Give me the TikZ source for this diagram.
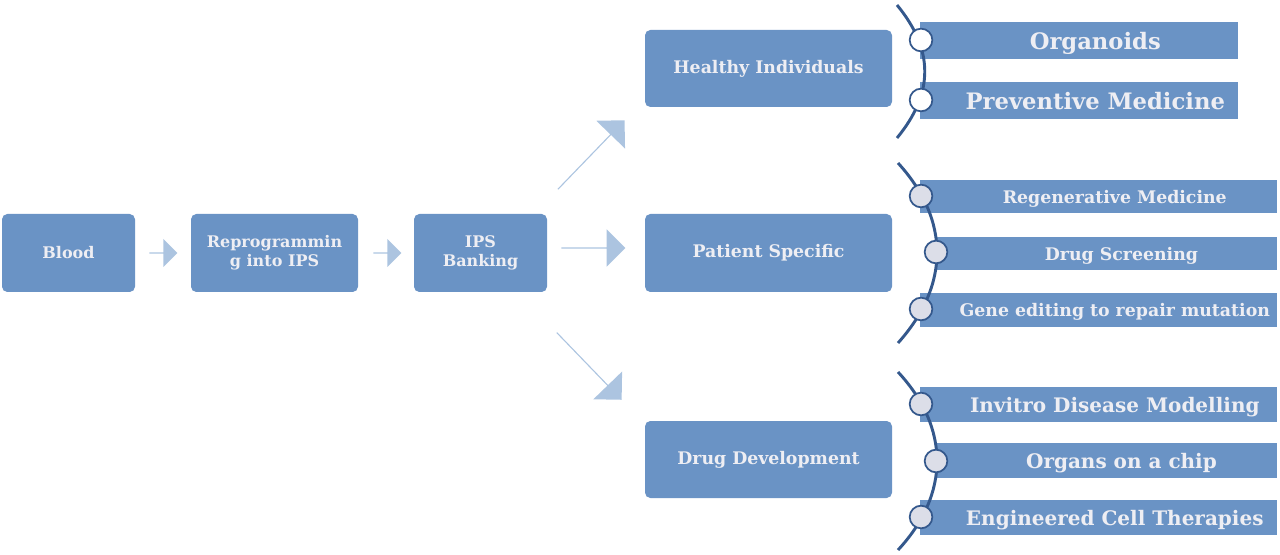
\documentclass[tikz,border=0pt]{standalone}
\usepackage{fontspec}
\setmainfont{DejaVu Serif}
\usetikzlibrary{shapes.arrows}
\definecolor{boxc}{RGB}{106,147,197}
\definecolor{arrc}{RGB}{172,196,224}
\definecolor{txtc}{RGB}{238,238,243}
\definecolor{linec}{RGB}{52,88,140}
\definecolor{dotc}{RGB}{220,222,232}
\begin{document}
\begin{tikzpicture}[x=0.75pt,y=-0.75pt,
  box/.style={fill=boxc,rounded corners=4pt,text=txtc,font=\bfseries\fontsize{12}{14}\selectfont,align=center,inner sep=0pt},
  bar/.style={fill=boxc,text=txtc,anchor=west,inner sep=0pt,minimum height=#1,text depth=0pt},
  arr/.style={fill=arrc,shape=single arrow,inner sep=0pt},
  arc/.style={draw=linec,line width=2.2pt},
  dot/.style={circle,draw=linec,line width=1.3pt,minimum size=17pt,inner sep=0pt}]
\useasboundingbox (0,0) rectangle (1280,555);
\node[box,minimum width=99.75pt,minimum height=58.5pt] (blood) at (68.5,253) {Blood};
\node[box,minimum width=125.25pt,minimum height=58.5pt] (repro) at (274.5,253) {Reprogrammin\\g into IPS};
\node[box,minimum width=99.75pt,minimum height=58.5pt] (ips) at (480.5,253) {IPS\\Banking};
\node[box,minimum width=185.25pt,minimum height=57.75pt,font=\bfseries\fontsize{13}{15}\selectfont] (healthy) at (768.5,68.5) {Healthy Individuals};
\node[box,minimum width=185.25pt,minimum height=58.5pt,font=\bfseries\fontsize{13}{15}\selectfont] (patient) at (768.5,253) {Patient Specific};
\node[box,minimum width=185.25pt,minimum height=57.75pt,font=\bfseries\fontsize{13}{15}\selectfont] (drug) at (768.5,459.5) {Drug Development};
% arrows
\node[arr,minimum height=21pt,minimum width=21pt,single arrow head extend=5pt] (a1) at (163,253) {};
\node[arr,minimum height=21pt,minimum width=21pt,single arrow head extend=5pt] (a2) at (387,253) {};
\node[arr,minimum height=48pt,minimum width=28pt,single arrow head extend=6pt] (a3) at (593,248) {};
\node[arr,minimum height=72pt,minimum width=30pt,single arrow head extend=7pt,rotate=46] (a4) at (591,155) {};
\node[arr,minimum height=70pt,minimum width=30pt,single arrow head extend=7pt,rotate=-46] (a5) at (589,366) {};
% healthy group
\node[bar=27.75pt,minimum width=238.5pt,font=\bfseries\fontsize{17}{19}\selectfont] (b1) at (920,40.5) {\hspace{24pt}Organoids};
\node[bar=27.75pt,minimum width=238.5pt,font=\bfseries\fontsize{17}{19}\selectfont] (b2) at (920,100.5) {\hspace{24pt}Preventive Medicine};
\coordinate (h1) at (897,5); \coordinate (h2) at (897,138);
\draw[arc] (h1) .. controls (934,50) and (934,93) .. (h2);
\node[dot,fill=white] (c1) at (921,40) {};
\node[dot,fill=white] (c2) at (921,100) {};
% patient group
\node[bar=24.75pt,minimum width=267.75pt,font=\bfseries\fontsize{13}{15}\selectfont] (p1) at (920,196.5) {\hspace{24pt}Regenerative Medicine};
\node[bar=24.75pt,minimum width=255.75pt,font=\bfseries\fontsize{13}{15}\selectfont] (p2) at (936,253.5) {\hspace{22pt}Drug Screening};
\node[bar=25.5pt,minimum width=267.75pt,font=\bfseries\fontsize{13}{15}\selectfont] (p3) at (920,310) {\hspace{24pt}Gene editing to repair mutation};
\coordinate (q1) at (898,163); \coordinate (q2) at (898,343);
\draw[arc] (q1) .. controls (950,220) and (950,285) .. (q2);
\node[dot,fill=dotc] (d1) at (921,196) {};
\node[dot,fill=dotc] (d2) at (936,252) {};
\node[dot,fill=dotc] (d3) at (921,309) {};
% drug group
\node[bar=26.25pt,minimum width=267.75pt,font=\bfseries\fontsize{15}{17}\selectfont] (r1) at (920,404.5) {\hspace{24pt}Invitro Disease Modelling};
\node[bar=26.25pt,minimum width=255.75pt,font=\bfseries\fontsize{15}{17}\selectfont] (r2) at (936,460.5) {\hspace{22pt}Organs on a chip};
\node[bar=26.25pt,minimum width=267.75pt,font=\bfseries\fontsize{15}{17}\selectfont] (r3) at (920,517.5) {\hspace{24pt}Engineered Cell Therapies};
\coordinate (s1) at (898,372); \coordinate (s2) at (898,550);
\draw[arc] (s1) .. controls (950,428) and (950,494) .. (s2);
\node[dot,fill=dotc] (e1) at (921,404) {};
\node[dot,fill=dotc] (e2) at (936,461) {};
\node[dot,fill=dotc] (e3) at (921,517) {};
\end{tikzpicture}
\end{document}
